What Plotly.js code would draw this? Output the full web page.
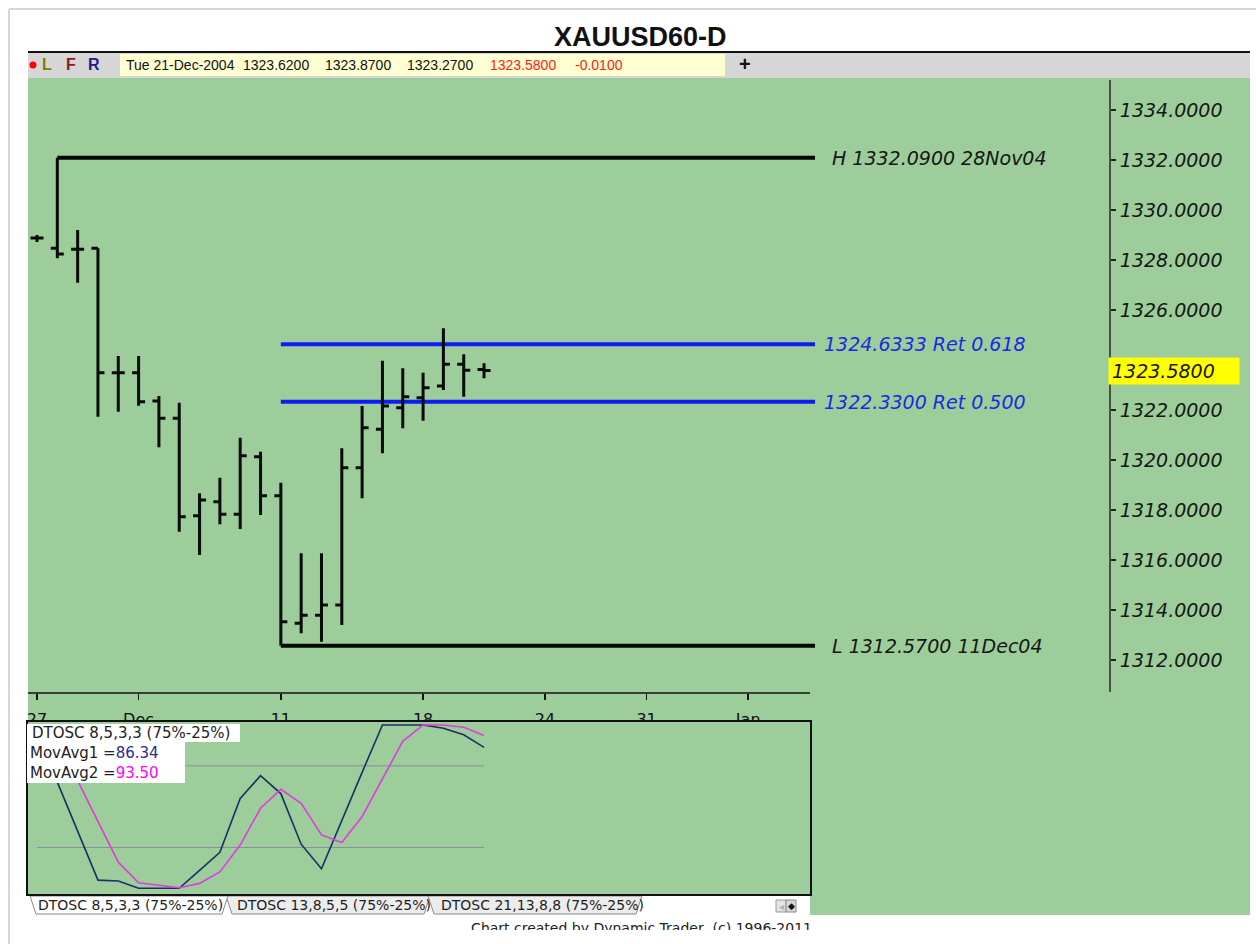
<!DOCTYPE html>
<html><head><meta charset="utf-8">
<script src="https://cdn.plot.ly/plotly-3.0.1.min.js"></script>
<style>html,body{margin:0;padding:0;background:#fff;}#chart{width:1256px;height:944px;}</style>
</head><body><div id="chart"></div>
<script>
// ---------------- data ----------------
const barOpen  = [1328.88,1328.47,1328.43,1328.47,1323.49,1323.49,1322.36,1321.67,1317.77,1318.33,1317.83,1320.13,1318.57,1313.47,1313.79,1314.20,1319.69,1321.23,1322.09,1322.49,1322.96,1323.83,1323.62];
const barHigh  = [1329.00,1332.09,1329.20,1328.47,1324.16,1324.16,1322.56,1322.29,1318.67,1319.29,1320.89,1320.33,1319.09,1316.27,1316.27,1320.47,1322.16,1323.97,1323.67,1323.49,1325.27,1324.23,1323.87];
const barLow   = [1328.72,1328.07,1327.09,1321.73,1321.93,1322.17,1320.51,1317.13,1316.20,1317.43,1317.24,1317.80,1312.57,1313.07,1312.73,1313.40,1318.47,1320.27,1321.27,1321.57,1322.80,1322.53,1323.27];
const barClose = [1328.88,1328.24,1328.43,1323.49,1323.49,1322.33,1321.67,1317.73,1318.40,1317.83,1320.17,1318.57,1313.53,1313.79,1314.20,1319.69,1321.29,1322.16,1322.53,1322.89,1323.83,1323.59,1323.58];
const lastDate = 'Tue 21-Dec-2004';

const oscFast = [86,65,35,5,4.5,0,0,0,11,22,55,69,58,27,12,42,71,100,100,100,98,94,86.34];
const oscSlow = [97,88,66,41,16,3.4,2,0.3,3,10,26.5,49,60.6,52,32.7,28,44,67.4,90,100,100,98.6,93.5];
const oscBands = [75,25];

const tickIdx    = [0,5,12,19,25,30,35];
const tickLabels = ['27','Dec','11','18','24','31','Jan'];
const priceTicks = [1312,1314,1316,1318,1320,1322,1326,1328,1330,1332,1334];

const hiDate = '28Nov04', loDate = '11Dec04';
const retLevels = [1324.6333, 1322.33];
const retRatios = [0.618, 0.500];

const tabLabels = ['DTOSC 8,5,3,3 (75%-25%)','DTOSC 13,8,5,5 (75%-25%)','DTOSC 21,13,8,8 (75%-25%)'];
const oscTitle = 'DTOSC 8,5,3,3 (75%-25%)';
const footer = 'Chart created by Dynamic Trader  (c) 1996-2011';

// ---------------- geometry helpers ----------------
const W = 1256, H = 944;
const PX = p => p / W, PY = p => 1 - p / H;
const X0 = 37, DX = 20.32;
const idxAt = p => (p - X0) / DX;
const priceAt = p => 1334 - (p - 110) / 25;
const oscAt = p => (888.3 - p) / 1.633;

const GREEN = '#9ccd9a';
const HAND = {family: 'DejaVu Sans', size: 19, style: 'italic', color: '#161616'};
const TAH = 'DejaVu Sans';

const idx = barClose.map((_, i) => i);
const hi = Math.max(...barHigh), lo = Math.min(...barLow);
const hiI = barHigh.indexOf(hi), loI = barLow.indexOf(lo);
const lineEnd = idxAt(815);
const n = barClose.length;

// ---------------- traces ----------------
const traces = [
  {type: 'ohlc', x: idx, open: barOpen, high: barHigh, low: barLow, close: barClose,
   increasing: {line: {color: '#0a0a0a', width: 3}}, decreasing: {line: {color: '#0a0a0a', width: 3}},
   tickwidth: 0.32, hoverinfo: 'skip', xaxis: 'x', yaxis: 'y'},
  {type: 'scatter', mode: 'text', x: tickIdx, y: tickIdx.map(() => priceAt(721)), text: tickLabels,
   textposition: 'middle center', textfont: {family: TAH, size: 16, color: '#111'}, cliponaxis: true,
   hoverinfo: 'skip', xaxis: 'x', yaxis: 'y'},
  {type: 'scatter', mode: 'lines', x: idx, y: oscFast, line: {color: '#1b2f66', width: 1.6},
   hoverinfo: 'skip', xaxis: 'x2', yaxis: 'y2'},
  {type: 'scatter', mode: 'lines', x: idx, y: oscSlow, line: {color: '#e03ce0', width: 1.6},
   hoverinfo: 'skip', xaxis: 'x2', yaxis: 'y2'},
  {type: 'scatter', mode: 'text', x: [1], y: [0.04], text: [footer], textposition: 'middle left',
   textfont: {family: TAH, size: 14, color: '#222'}, cliponaxis: true, hoverinfo: 'skip', xaxis: 'x3', yaxis: 'y3'}
];

// ---------------- shapes ----------------
const rectP = (x0, y0, x1, y1, fill, line, layer) => ({type: 'rect', xref: 'paper', yref: 'paper',
  x0: PX(x0), x1: PX(x1), y0: PY(y1), y1: PY(y0), fillcolor: fill,
  line: line || {width: 0}, layer: layer || 'below'});
const lineP = (x0, y0, x1, y1, color, width, layer) => ({type: 'line', xref: 'paper', yref: 'paper',
  x0: PX(x0), x1: PX(x1), y0: PY(y0), y1: PY(y1), line: {color: color, width: width}, layer: layer || 'below'});
const pathP = (pts, fill, lc) => ({type: 'path', xref: 'paper', yref: 'paper', layer: 'below',
  path: 'M' + pts.map(p => PX(p[0]) + ',' + PY(p[1])).join('L') + 'Z', fillcolor: fill, line: {color: lc, width: 1}});

const shapes = [
  lineP(9, 9, 9, 944, '#d6d6d6', 2),
  lineP(9, 9, 1256, 9, '#d6d6d6', 2),
  rectP(28, 78, 1250, 895, GREEN),
  rectP(810, 895, 1250, 915, GREEN),
  rectP(28, 52, 1250, 78, '#d6d6d6'),
  lineP(28, 52, 1250, 52, '#111', 2),
  rectP(120, 54, 725, 76, '#ffffd2'),
  {type: 'circle', xref: 'paper', yref: 'paper', x0: PX(29.5), x1: PX(36.5), y0: PY(68.5), y1: PY(61.5),
   fillcolor: '#ff0000', line: {width: 0}},
  lineP(28, 693, 810, 693, '#111', 1.5),
  lineP(1110, 80, 1110, 692, '#2a2a2a', 1.5),
  // H / L
  {type: 'line', xref: 'x', yref: 'y', x0: hiI, x1: lineEnd, y0: hi, y1: hi, line: {color: '#050505', width: 4}, layer: 'below'},
  {type: 'line', xref: 'x', yref: 'y', x0: loI, x1: lineEnd, y0: lo, y1: lo, line: {color: '#050505', width: 4}, layer: 'below'},
  // tabs
  pathP([[226, 896], [232, 914], [424, 914], [430, 896]], '#ececec', '#8a8a8a'),
  pathP([[428, 896], [434, 914], [636, 914], [642, 896]], '#ececec', '#8a8a8a'),
  pathP([[30, 896], [36, 914], [222, 914], [228, 896]], '#ffffff', '#8a8a8a'),
  rectP(776, 900, 786, 912, '#e4e4e4', {color: '#9a9a9a', width: 1}),
  rectP(786, 900, 796, 912, '#d8d8d8', {color: '#8a8a8a', width: 1}),
  // oscillator legend backgrounds
  rectP(27, 724, 240, 742, '#ffffff', null, 'above'),
  rectP(27, 742, 185, 783, '#ffffff', null, 'above')
];
retLevels.forEach(v => shapes.push({type: 'line', xref: 'x', yref: 'y', x0: loI, x1: lineEnd, y0: v, y1: v,
  line: {color: '#0c1cf2', width: 4}, layer: 'below'}));
oscBands.forEach(v => shapes.push({type: 'line', xref: 'x2', yref: 'y2', x0: 0, x1: n - 1, y0: v, y1: v,
  line: {color: '#8c8ca4', width: 1}, layer: 'below'}));

// ---------------- annotations ----------------
const ann = (x, y, text, font, extra) => Object.assign({xref: 'paper', yref: 'paper', x: PX(x), y: PY(y),
  text: text, showarrow: false, xanchor: 'left', yanchor: 'middle', font: font}, extra || {});
const last = n - 1;
const chg = barClose[last] - barClose[last - 1];
const hdrFont = {family: 'Liberation Sans', size: 14, color: '#111'};
const annotations = [
  ann(640, 37, '<b>XAUUSD60-D</b>', {family: 'Liberation Sans', size: 27, color: '#111'}, {xanchor: 'center'}),
  ann(47, 65, '<b>L</b>', {family: 'Liberation Sans', size: 16, color: '#7d7d00'}, {xanchor: 'center'}),
  ann(71, 65, '<b>F</b>', {family: 'Liberation Sans', size: 16, color: '#8b1c1c'}, {xanchor: 'center'}),
  ann(94, 65, '<b>R</b>', {family: 'Liberation Sans', size: 16, color: '#1c1c8c'}, {xanchor: 'center'}),
  ann(124, 65, lastDate, hdrFont),
  ann(241, 65, barOpen[last].toFixed(4), hdrFont),
  ann(323, 65, barHigh[last].toFixed(4), hdrFont),
  ann(405, 65, barLow[last].toFixed(4), hdrFont),
  ann(488, 65, barClose[last].toFixed(4), Object.assign({}, hdrFont, {color: '#ff1a1a'})),
  ann(573, 65, chg.toFixed(4), Object.assign({}, hdrFont, {color: '#ff1a1a'})),
  ann(745, 64, '<b>+</b>', {family: 'Liberation Sans', size: 20, color: '#111'}, {xanchor: 'center'}),
  // level labels
  {xref: 'x', yref: 'y', x: idxAt(830), y: hi, text: 'H ' + hi.toFixed(4) + ' ' + hiDate, showarrow: false,
   xanchor: 'left', yanchor: 'middle', font: HAND},
  {xref: 'x', yref: 'y', x: idxAt(830), y: lo, text: 'L ' + lo.toFixed(4) + ' ' + loDate, showarrow: false,
   xanchor: 'left', yanchor: 'middle', font: HAND},
  // current price tag
  {xref: 'paper', yref: 'y', x: PX(1108), y: barClose[last], text: barClose[last].toFixed(4), showarrow: false,
   xanchor: 'left', yanchor: 'middle', bgcolor: '#ffff00', width: 124, height: 20, borderpad: 3, align: 'left',
   font: HAND},
  // oscillator legend
  ann(30, 733, oscTitle, {family: TAH, size: 15, color: '#222'}),
  ann(28, 753, 'MovAvg1 =<span style="color:#2b2b90">' + oscFast[last].toFixed(2) + '</span>', {family: TAH, size: 15, color: '#222'}),
  ann(28, 773, 'MovAvg2 =<span style="color:#ff00ff">' + oscSlow[last].toFixed(2) + '</span>', {family: TAH, size: 15, color: '#222'}),
  // buttons
  ann(781, 906, '◂', {family: TAH, size: 10, color: '#b0b0b0'}, {xanchor: 'center'}),
  ann(791, 906, '◆', {family: TAH, size: 9, color: '#111'}, {xanchor: 'center'})
];
retLevels.forEach((v, k) => annotations.push({xref: 'x', yref: 'y', x: idxAt(822), y: v,
  text: v.toFixed(4) + ' Ret ' + retRatios[k].toFixed(3), showarrow: false, xanchor: 'left', yanchor: 'middle',
  font: Object.assign({}, HAND, {color: '#1a2ae0'})}));
const tabX = [36, 235, 439];
tabLabels.forEach((t, k) => annotations.push(ann(tabX[k], 905, t, {family: TAH, size: 14, color: '#1e1e1e'})));

// ---------------- layout ----------------
const noAx = {showgrid: false, zeroline: false, fixedrange: true};
const layout = {
  width: W, height: H, margin: {l: 0, r: 0, t: 0, b: 0, pad: 0},
  paper_bgcolor: '#ffffff', plot_bgcolor: 'rgba(0,0,0,0)', showlegend: false,
  font: {family: TAH, color: '#111'},
  xaxis: Object.assign({}, noAx, {domain: [PX(28), PX(1250)], range: [idxAt(28), idxAt(1250)],
    anchor: 'free', position: PY(693), showline: false, ticks: 'outside', ticklen: 6, tickwidth: 1.5,
    tickcolor: '#111', tickvals: tickIdx, showticklabels: false, rangeslider: {visible: false}}),
  yaxis: Object.assign({}, noAx, {domain: [PY(722), PY(78)], range: [priceAt(722), priceAt(78)],
    anchor: 'free', position: PX(1110), side: 'right', showline: false, ticks: 'outside', ticklen: 5,
    tickwidth: 1.2, tickcolor: '#222', tickvals: priceTicks, tickformat: '.4f', tickfont: HAND}),
  xaxis2: Object.assign({}, noAx, {domain: [PX(28), PX(810)], range: [idxAt(28), idxAt(810)], anchor: 'y2',
    showline: true, mirror: true, linecolor: '#111', linewidth: 2, showticklabels: false, ticks: ''}),
  yaxis2: Object.assign({}, noAx, {domain: [PY(894), PY(722)], range: [oscAt(894), oscAt(722)], anchor: 'x2',
    showline: true, mirror: true, linecolor: '#111', linewidth: 2, showticklabels: false, ticks: ''}),
  xaxis3: Object.assign({}, noAx, {domain: [PX(420), PX(812)], range: [0, 1], anchor: 'y3', visible: false}),
  yaxis3: Object.assign({}, noAx, {domain: [PY(930), PY(915)], range: [0, 1], anchor: 'x3', visible: false}),
  shapes: shapes, annotations: annotations
};

Plotly.newPlot('chart', traces, layout, {staticPlot: true, displayModeBar: false});
</script></body></html>
